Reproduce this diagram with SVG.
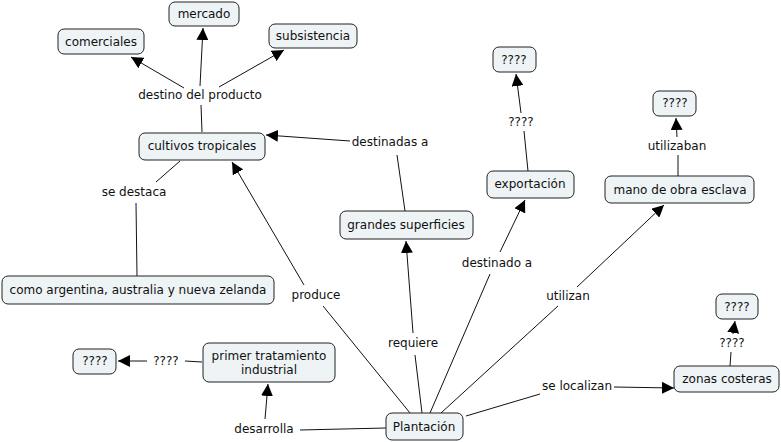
<svg xmlns="http://www.w3.org/2000/svg" width="781" height="442" viewBox="0 0 781 442">
<style>
.n rect{fill:#eef3f6;stroke:#222;stroke-width:1}
text{font-family:"DejaVu Sans",Verdana,sans-serif;font-size:12px;fill:#111;text-anchor:middle;dominant-baseline:central}
.c line{stroke:#111;stroke-width:1;fill:none}
.a{marker-end:url(#ah)}
</style>
<defs>
<marker id="ah" markerUnits="userSpaceOnUse" markerWidth="12" markerHeight="12" viewBox="0 0 12 12" refX="12" refY="6" orient="auto">
<path d="M0,0 L12,6 L0,12 z" fill="#000"/>
</marker>
</defs>
<rect width="781" height="442" fill="#fff"/>
<g class="c">
<line x1="202" y1="132" x2="201" y2="105"/>
<line class="a" x1="200" y1="86" x2="203" y2="28"/>
<line class="a" x1="184" y1="88" x2="131" y2="57"/>
<line class="a" x1="219" y1="87" x2="284" y2="50"/>
<line x1="405" y1="211" x2="397" y2="155"/>
<line class="a" x1="350" y1="141" x2="266" y2="135"/>
<line x1="180" y1="161" x2="156" y2="182"/>
<line x1="136" y1="203" x2="137" y2="276"/>
<line x1="410" y1="413" x2="323" y2="306"/>
<line class="a" x1="304" y1="285" x2="232" y2="162"/>
<line x1="422" y1="413" x2="415" y2="355"/>
<line class="a" x1="413" y1="333" x2="406" y2="241"/>
<line x1="430" y1="413" x2="490" y2="274"/>
<line class="a" x1="500" y1="252" x2="525" y2="200"/>
<line x1="441" y1="413" x2="558" y2="306"/>
<line class="a" x1="577" y1="287" x2="664" y2="205"/>
<line x1="466" y1="416" x2="540" y2="394"/>
<line class="a" x1="614" y1="387" x2="674" y2="388"/>
<line x1="528" y1="171" x2="524" y2="131"/>
<line class="a" x1="521" y1="113" x2="516" y2="74"/>
<line x1="678" y1="176" x2="678" y2="155"/>
<line class="a" x1="677" y1="137" x2="676" y2="118"/>
<line x1="730" y1="366" x2="731" y2="352"/>
<line class="a" x1="733" y1="334" x2="735" y2="321"/>
<line x1="386" y1="428" x2="300" y2="430"/>
<line class="a" x1="265" y1="419" x2="268" y2="384"/>
<line x1="202" y1="362" x2="185" y2="361"/>
<line class="a" x1="147" y1="361" x2="118" y2="361"/>
</g>
<g id="lbl-destino"><text x="200" y="95">destino del producto</text></g>
<g id="lbl-destinadas"><text x="390" y="142">destinadas a</text></g>
<g id="lbl-destaca"><text x="134" y="192">se destaca</text></g>
<g id="lbl-produce"><text x="316" y="295">produce</text></g>
<g id="lbl-requiere"><text x="413" y="343">requiere</text></g>
<g id="lbl-destinado"><text x="497" y="263">destinado a</text></g>
<g id="lbl-utilizan"><text x="568" y="296">utilizan</text></g>
<g id="lbl-localizan"><text x="577" y="386">se localizan</text></g>
<g id="lbl-q1"><text x="521" y="122">????</text></g>
<g id="lbl-utilizaban"><text x="677" y="146">utilizaban</text></g>
<g id="lbl-q2"><text x="732" y="343">????</text></g>
<g id="lbl-desarrolla"><text x="264" y="429">desarrolla</text></g>
<g id="lbl-q3"><text x="166" y="361">????</text></g>
<g id="n-mercado" class="n"><rect x="169" y="2" width="70" height="24" rx="6"/><text x="204" y="14">mercado</text></g>
<g id="n-comerciales" class="n"><rect x="58" y="29" width="86" height="25" rx="6"/><text x="101" y="42">comerciales</text></g>
<g id="n-subsistencia" class="n"><rect x="269" y="24" width="88" height="24" rx="6"/><text x="313" y="36">subsistencia</text></g>
<g id="n-cultivos" class="n"><rect x="139" y="133" width="126" height="27" rx="6"/><text x="202" y="146">cultivos tropicales</text></g>
<g id="n-grandes" class="n"><rect x="340" y="211" width="133" height="28" rx="6"/><text x="406" y="225">grandes superficies</text></g>
<g id="n-q-export" class="n"><rect x="493" y="47" width="43" height="25" rx="6"/><text x="514" y="60">????</text></g>
<g id="n-exportacion" class="n"><rect x="487" y="171" width="87" height="27" rx="6"/><text x="530" y="184">exportación</text></g>
<g id="n-q-mano" class="n"><rect x="653" y="91" width="43" height="25" rx="6"/><text x="675" y="103">????</text></g>
<g id="n-mano" class="n"><rect x="605" y="176" width="149" height="27" rx="6"/><text x="680" y="190">mano de obra esclava</text></g>
<g id="n-argentina" class="n"><rect x="2" y="276" width="272" height="28" rx="6"/><text x="138" y="290">como argentina, australia y nueva zelanda</text></g>
<g id="n-q-zonas" class="n"><rect x="716" y="294" width="42" height="25" rx="6"/><text x="737" y="307">????</text></g>
<g id="n-zonas" class="n"><rect x="674" y="366" width="105" height="26" rx="6"/><text x="727" y="379">zonas costeras</text></g>
<g id="n-plantacion" class="n"><rect x="386" y="413" width="77" height="27" rx="6"/><text x="424" y="427">Plantación</text></g>
<g id="n-primer" class="n"><rect x="203" y="343" width="132" height="39" rx="6"/><text x="269" y="356">primer tratamiento</text><text x="269" y="370">industrial</text></g>
<g id="n-q-primer" class="n"><rect x="73" y="349" width="43" height="25" rx="6"/><text x="95" y="361">????</text></g>
</svg>
